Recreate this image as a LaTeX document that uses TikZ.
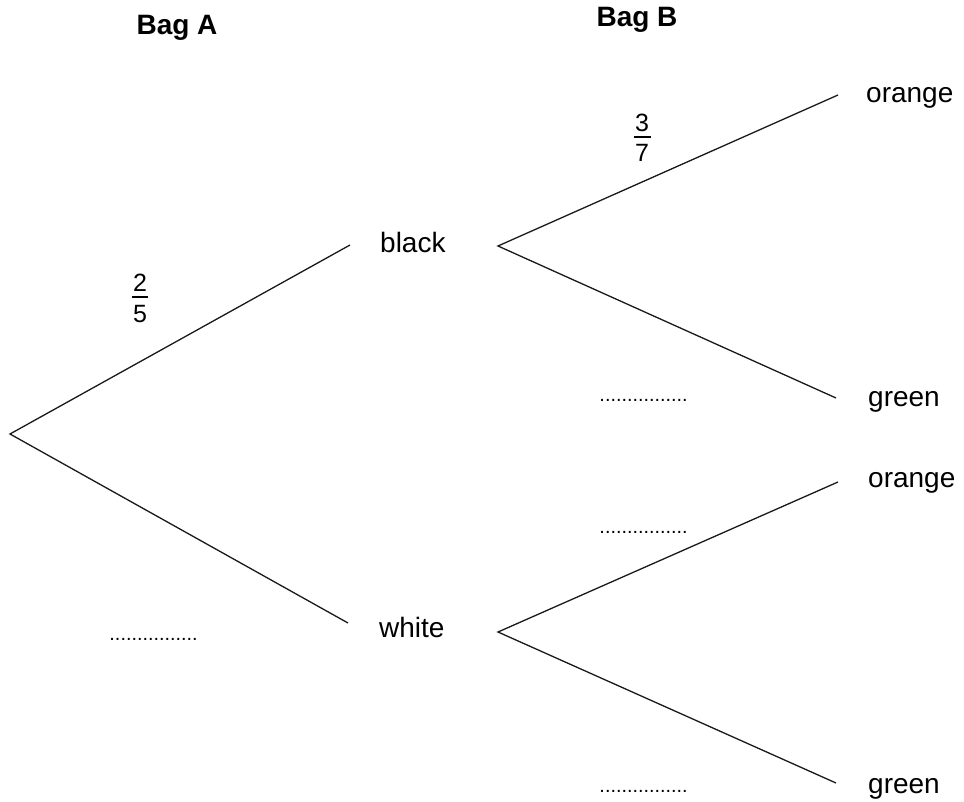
\documentclass[tikz,border=0pt]{standalone}
\usepackage{fontspec}
\setmainfont{Liberation Sans}
\begin{document}
\begin{tikzpicture}[x=1pt,y=-1pt,
  branch/.style={line width=1.3pt,black!90},
  lbl/.style={inner sep=0pt,anchor=base west,font=\fontsize{28}{32}\selectfont},
  head/.style={inner sep=0pt,anchor=base,font=\fontsize{28}{32}\selectfont\bfseries},
  digit/.style={inner sep=0pt,anchor=base,font=\fontsize{25}{29}\selectfont},
  blank/.style={inner sep=0pt,anchor=base,font=\fontsize{19.8}{22}\selectfont},
  bar/.style={line width=1.2pt}]
\useasboundingbox (0,0) rectangle (964,802);
% headings
\node[head] (bagA) at (177,35) {Bag A};
\node[head] (bagB) at (637,27) {Bag B};
% branch points
\coordinate (root) at (10,434);
\coordinate (blackEnd) at (350,245);
\coordinate (whiteEnd) at (348,623);
\coordinate (blackRoot) at (498,246);
\coordinate (whiteRoot) at (498,632);
\coordinate (bo) at (838,95);
\coordinate (bg) at (836,398);
\coordinate (wo) at (838,482);
\coordinate (wg) at (836,783);
% outcome labels
\node[lbl] (black) at (380,253) {black};
\node[lbl] (white) at (379,637) {white};
\node[lbl] (orange1) at (866,103) {orange};
\node[lbl] (green1) at (868,406) {green};
\node[lbl] (orange2) at (868,487) {orange};
\node[lbl] (green2) at (868,793) {green};
% branches
\draw[branch] (blackEnd) -- (root) -- (whiteEnd);
\draw[branch] (bo) -- (blackRoot) -- (bg);
\draw[branch] (wo) -- (whiteRoot) -- (wg);
% fractions
\node[digit] (n1) at (140,292) {2};
\node[digit] (d1) at (140,323) {5};
\coordinate (b1l) at (132,297);
\coordinate (b1r) at (148,297);
\draw[bar] (b1l) -- (b1r);
\node[digit] (n2) at (642,132) {3};
\node[digit] (d2) at (642,162) {7};
\coordinate (b2l) at (634,137);
\coordinate (b2r) at (651,137);
\draw[bar] (b2l) -- (b2r);
% blanks
\node[blank] (blankA) at (153.5,640) {................};
\node[blank] (blankB1) at (643.5,401) {................};
\node[blank] (blankB2) at (643.5,533) {................};
\node[blank] (blankB3) at (643.5,792) {................};
\end{tikzpicture}
\end{document}
